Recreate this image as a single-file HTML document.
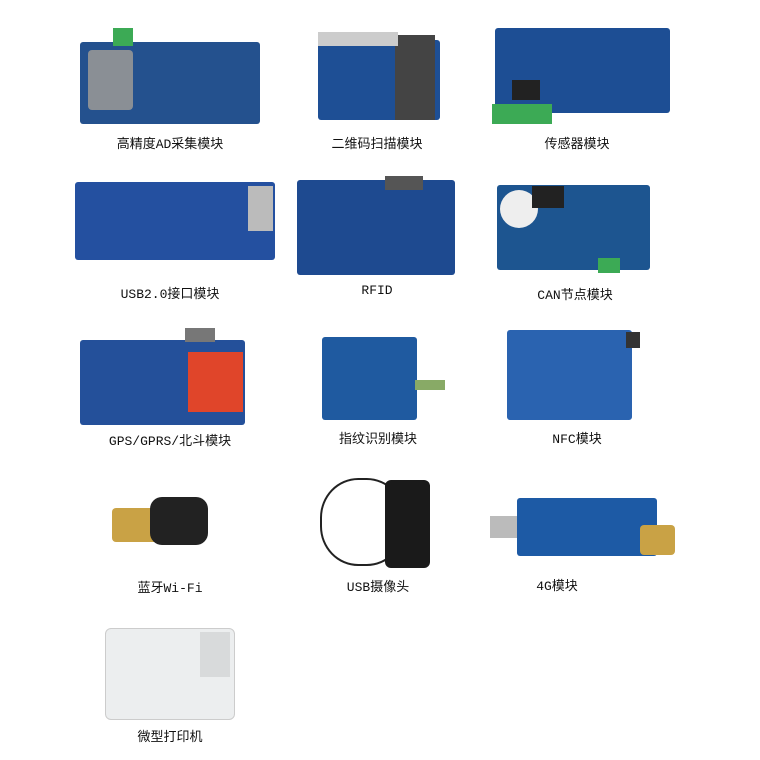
<!DOCTYPE html>
<html><head><meta charset="utf-8"><style>
body{margin:0;width:760px;height:760px;background:#fff;position:relative;overflow:hidden}
.b{position:absolute;background:#1f4f8f;border-radius:3px}
.l{position:absolute;font:13px "Liberation Mono","Noto Sans CJK SC",monospace;color:#111;transform:translateX(-50%);white-space:nowrap}
.c{position:absolute}
</style></head><body>
<!-- row1 -->
<div class="b" style="left:80px;top:42px;width:180px;height:82px;background:#24518e"></div>
<div class="c" style="left:88px;top:50px;width:45px;height:60px;background:#8a8f95;border-radius:4px"></div>
<div class="c" style="left:113px;top:28px;width:20px;height:18px;background:#3caa55"></div>
<div class="b" style="left:318px;top:40px;width:122px;height:80px;background:#1e4f95"></div>
<div class="c" style="left:395px;top:35px;width:40px;height:85px;background:#444"></div>
<div class="c" style="left:318px;top:32px;width:80px;height:14px;background:#ccc"></div>
<div class="b" style="left:495px;top:28px;width:175px;height:85px;background:#1d4e94"></div>
<div class="c" style="left:492px;top:104px;width:60px;height:20px;background:#3caa55"></div>
<div class="c" style="left:512px;top:80px;width:28px;height:20px;background:#222"></div>
<div class="l" style="left:170px;top:133px">高精度AD采集模块</div>
<div class="l" style="left:377px;top:133px">二维码扫描模块</div>
<div class="l" style="left:577px;top:133px">传感器模块</div>
<!-- row2 -->
<div class="b" style="left:75px;top:182px;width:200px;height:78px;background:#2450a0"></div>
<div class="c" style="left:248px;top:186px;width:25px;height:45px;background:#bbb"></div>
<div class="b" style="left:297px;top:180px;width:158px;height:95px;background:#1e4a90"></div>
<div class="c" style="left:385px;top:176px;width:38px;height:14px;background:#555"></div>
<div class="b" style="left:497px;top:185px;width:153px;height:85px;background:#1d5590"></div>
<div class="c" style="left:500px;top:190px;width:38px;height:38px;background:#eee;border-radius:50%"></div>
<div class="c" style="left:532px;top:186px;width:32px;height:22px;background:#222"></div>
<div class="c" style="left:598px;top:258px;width:22px;height:15px;background:#3caa55"></div>
<div class="l" style="left:170px;top:283px">USB2.0接口模块</div>
<div class="l" style="left:377px;top:283px">RFID</div>
<div class="l" style="left:575px;top:284px">CAN节点模块</div>
<!-- row3 -->
<div class="b" style="left:80px;top:340px;width:165px;height:85px;background:#24509a"></div>
<div class="c" style="left:188px;top:352px;width:55px;height:60px;background:#e0452a"></div>
<div class="c" style="left:185px;top:328px;width:30px;height:14px;background:#777"></div>
<div class="b" style="left:322px;top:337px;width:95px;height:83px;background:#1f5aa0"></div>
<div class="c" style="left:415px;top:380px;width:30px;height:10px;background:#8a6"></div>
<div class="b" style="left:507px;top:330px;width:125px;height:90px;background:#2a63b0"></div>
<div class="c" style="left:626px;top:332px;width:14px;height:16px;background:#333"></div>
<div class="l" style="left:170px;top:430px">GPS/GPRS/北斗模块</div>
<div class="l" style="left:378px;top:428px">指纹识别模块</div>
<div class="l" style="left:577px;top:428px">NFC模块</div>
<!-- row4 -->
<div class="c" style="left:112px;top:508px;width:60px;height:34px;background:#c9a245;border-radius:4px"></div>
<div class="c" style="left:150px;top:497px;width:58px;height:48px;background:#222;border-radius:12px"></div>
<div class="c" style="left:320px;top:478px;width:85px;height:88px;border:2px solid #222;border-radius:45%;box-sizing:border-box"></div>
<div class="c" style="left:385px;top:480px;width:45px;height:88px;background:#1a1a1a;border-radius:6px"></div>
<div class="c" style="left:490px;top:516px;width:30px;height:22px;background:#bbb"></div>
<div class="b" style="left:517px;top:498px;width:140px;height:58px;background:#1d5aa5"></div>
<div class="c" style="left:640px;top:525px;width:35px;height:30px;background:#c9a245;border-radius:4px"></div>
<div class="l" style="left:170px;top:577px">蓝牙Wi-Fi</div>
<div class="l" style="left:378px;top:576px">USB摄像头</div>
<div class="l" style="left:557px;top:575px">4G模块</div>
<!-- row5 -->
<div class="c" style="left:105px;top:628px;width:130px;height:92px;background:#eceeef;border:1px solid #ccc;border-radius:6px;box-sizing:border-box"></div>
<div class="c" style="left:200px;top:632px;width:30px;height:45px;background:#d8dadb"></div>
<div class="l" style="left:170px;top:726px">微型打印机</div>
</body></html>
